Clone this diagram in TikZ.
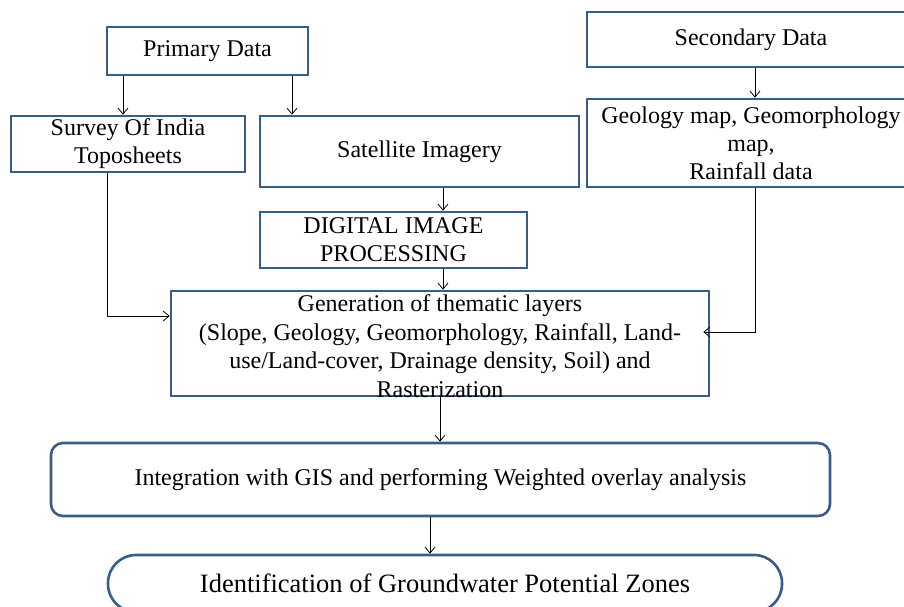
\documentclass[tikz,border=0pt]{standalone}
\usepackage{fontspec}
\setmainfont{Liberation Serif}
\usetikzlibrary{arrows.meta,calc}
\definecolor{boxblue}{RGB}{56,93,138}
\begin{document}
\begin{tikzpicture}[x=1pt,y=-1pt,
  box/.style={draw=boxblue,line width=2.6pt,inner sep=0pt,align=center,
    font=\fontsize{24}{28}\selectfont},
  arr/.style={draw=black,line width=0.8pt,-{Straight Barb[length=6pt,width=10pt]}}]
\useasboundingbox (0,0) rectangle (904,607);
\clip (0,0) rectangle (904,607);
\node[box,minimum width=201pt,minimum height=48pt] (prim) at (207.5,51) {Primary Data};
\node[box,minimum width=234pt,minimum height=56pt] (survey) at (128,144) {Survey Of India\\Toposheets};
\node[box,minimum width=319pt,minimum height=71pt] (sat) at (419.5,151.5) {Satellite Imagery};
\node[box,minimum width=267pt,minimum height=56pt] (dip) at (393.5,240) {DIGITAL IMAGE\\PROCESSING};
\node[box,minimum width=538pt,minimum height=105pt] (gen) at (440,343.5) {};
\node[align=center,inner sep=0pt,font=\fontsize{24}{28.5}\selectfont] (gentext) at (440,346)
  {Generation of thematic layers\\(Slope, Geology, Geomorphology, Rainfall, Land-\\use/Land-cover, Drainage density, Soil) and\\Rasterization};
\node[box,minimum width=328pt,minimum height=55pt] (sec) at (751,39.5) {Secondary Data};
\node[box,minimum width=328pt,minimum height=88pt] (geo) at (751,143) {Geology map, Geomorphology\\map,\\Rainfall data};
\node[box,rounded corners=12pt,minimum width=779pt,minimum height=73pt] (integ) at (440.5,479.5)
  {Integration with GIS and performing Weighted overlay analysis};
\node[box,rounded corners=28pt,minimum width=674pt,minimum height=57pt,
  font=\fontsize{26.5}{30}\selectfont] (ident) at (445,583.5)
  {Identification of Groundwater Potential Zones};
% connectors
\draw[arr] (prim.south -| 123,0) -- (survey.north -| 123,0);
\draw[arr] (prim.south -| 292,0) -- (sat.north -| 292,0);
\draw[arr] (sec.south -| 755,0) -- (geo.north -| 755,0);
\draw[arr] (sat.south -| 443,0) -- (dip.north -| 443,0);
\draw[arr] (dip.south -| 443,0) -- (gen.north -| 443,0);
\draw[arr] (survey.south -| 107,0) |- (gen.west |- 0,316);
\draw[arr] (geo.south -| 755,0) |- ([xshift=-7pt]gen.east |- 0,332);
\draw[arr] (gen.south) -- (gen.south |- integ.north);
\draw[arr] (integ.south -| 430,0) -- (ident.north -| 430,0);
\end{tikzpicture}
\end{document}
